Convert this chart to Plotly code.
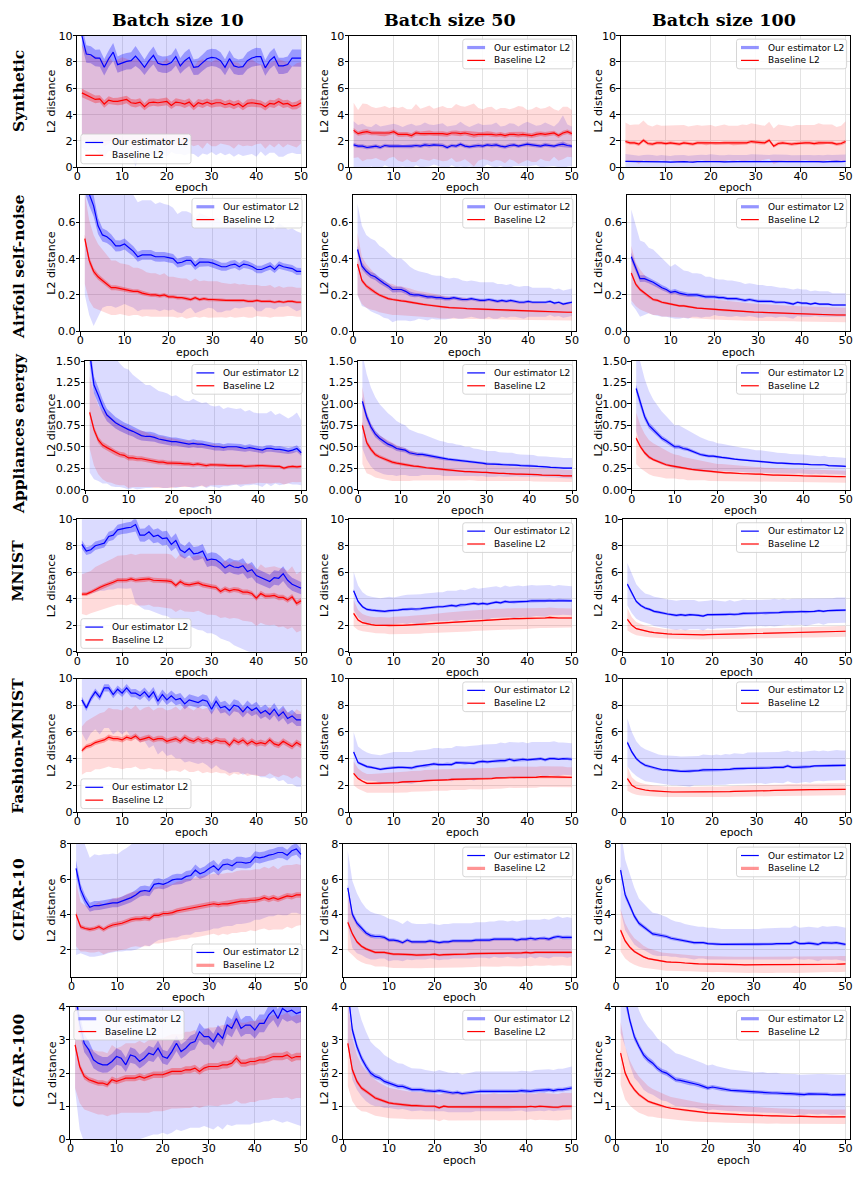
import plotly.graph_objects as go

# ---------------- data ----------------
EPOCHS = list(range(1, 51))
X_TICKS = [0, 10, 20, 30, 40, 50]
COL_TITLES = ["Batch size 10", "Batch size 50", "Batch size 100"]
ROW_NAMES = ["Synthetic", "Airfoil self-noise", "Appliances energy", "MNIST",
             "Fashion-MNIST", "CIFAR-10", "CIFAR-100"]
SERIES_NAMES = ["Our estimator L2", "Baseline L2"]
X_LABEL = "epoch"
Y_LABEL = "L2 distance"

Y_RANGES = [[0, 10], [0, 0.75], [0, 1.5], [0, 10], [0, 10], [0.45, 8], [0, 4]]
Y_TICKVALS = [[0, 2, 4, 6, 8, 10], [0, 0.2, 0.4, 0.6], [0, 0.25, 0.5, 0.75, 1.0, 1.25, 1.5],
              [0, 2, 4, 6, 8, 10], [0, 2, 4, 6, 8, 10], [2, 4, 6, 8], [0, 1, 2, 3, 4]]
Y_TICKTEXT = [["0", "2", "4", "6", "8", "10"], ["0.0", "0.2", "0.4", "0.6"],
              ["0.00", "0.25", "0.50", "0.75", "1.00", "1.25", "1.50"],
              ["0", "2", "4", "6", "8", "10"], ["0", "2", "4", "6", "8", "10"],
              ["2", "4", "6", "8"], ["0", "1", "2", "3", "4"]]

# ---- Synthetic ----
SYN10_OURS = [10.0, 8.6, 8.55, 8.3, 8.3, 7.6, 8.25, 8.75, 7.8, 7.95,
              8.05, 8.1, 8.45, 8.05, 7.6, 8.1, 8.5, 7.9, 7.8, 7.8,
              7.95, 8.4, 7.7, 8.1, 8.35, 7.6, 7.65, 7.95, 8.25, 8.35,
              8.3, 8.1, 7.6, 8.25, 7.7, 7.6, 7.65, 8.1, 8.3, 8.4,
              8.4, 7.55, 8.1, 8.4, 7.7, 7.7, 7.8, 8.3, 8.3, 8.3]
SYN10_OURS_SD = [8.5, 7.4, 7.2, 7.0, 7.3, 6.9, 7.0, 7.6, 6.8, 7.1,
                 7.0, 7.2, 8.4, 7.0, 6.6, 7.1, 7.5, 6.9, 6.8, 7.0,
                 6.8, 7.4, 6.7, 7.2, 7.3, 6.6, 6.9, 6.9, 7.3, 7.2,
                 7.4, 7.0, 6.7, 7.2, 6.9, 6.6, 6.8, 7.2, 7.3, 7.6,
                 7.2, 6.7, 7.0, 7.3, 6.9, 6.9, 6.8, 7.2, 7.3, 7.3]
SYN10_BASE = [5.65, 5.5, 5.3, 5.15, 5.2, 4.8, 5.1, 5.0, 5.0, 5.05,
              5.15, 4.9, 4.85, 4.95, 4.6, 4.9, 4.95, 4.9, 4.95, 5.0,
              4.7, 4.95, 4.9, 4.8, 4.95, 4.6, 4.9, 4.8, 4.95, 4.8,
              4.9, 4.9, 4.75, 4.85, 4.7, 4.85, 4.6, 4.85, 4.9, 4.85,
              4.8, 4.6, 4.85, 4.8, 5.0, 4.8, 4.85, 4.65, 4.7, 4.9]
SYN10_BASE_SD = [3.6, 3.4, 3.2, 3.3, 3.1, 3.2, 3.3, 3.0, 3.2, 3.3,
                 3.1, 3.2, 3.4, 3.2, 3.0, 3.3, 3.1, 3.2, 3.0, 3.3,
                 3.1, 3.2, 3.0, 3.3, 3.2, 3.0, 3.2, 3.4, 3.1, 3.2,
                 3.3, 3.1, 3.0, 3.2, 3.3, 3.1, 3.0, 3.2, 3.3, 3.1,
                 3.0, 3.2, 3.1, 3.3, 3.2, 3.3, 3.1, 3.0, 3.2, 3.1]
SYN50_OURS = [1.7, 1.6, 1.6, 1.5, 1.55, 1.6, 1.5, 1.65, 1.6, 1.6,
              1.6, 1.55, 1.6, 1.6, 1.65, 1.6, 1.7, 1.65, 1.7, 1.7,
              1.65, 1.5, 1.65, 1.6, 1.75, 1.6, 1.55, 1.6, 1.65, 1.6,
              1.7, 1.65, 1.7, 1.6, 1.55, 1.65, 1.7, 1.6, 1.7, 1.75,
              1.7, 1.65, 1.6, 1.7, 1.65, 1.6, 1.7, 1.75, 1.65, 1.6]
SYN50_OURS_SD = [1.8, 1.6, 1.7, 1.6, 1.5, 1.7, 1.6, 1.5, 1.6, 1.7,
                 1.6, 1.5, 1.6, 1.7, 1.5, 1.6, 1.7, 1.6, 1.5, 1.6,
                 1.7, 1.6, 1.5, 1.6, 1.7, 1.6, 1.5, 1.6, 1.7, 1.6,
                 1.5, 1.6, 1.7, 1.5, 1.6, 1.7, 1.6, 1.5, 1.6, 1.7,
                 1.6, 1.5, 1.6, 1.7, 1.6, 1.5, 1.7, 2.2, 1.6, 1.5]
SYN50_BASE = [2.8, 2.55, 2.65, 2.7, 2.6, 2.6, 2.55, 2.55, 2.6, 2.7,
              2.5, 2.5, 2.5, 2.4, 2.6, 2.55, 2.55, 2.6, 2.55, 2.55,
              2.55, 2.5, 2.6, 2.6, 2.55, 2.6, 2.55, 2.45, 2.5, 2.5,
              2.55, 2.5, 2.45, 2.5, 2.4, 2.5, 2.5, 2.45, 2.5, 2.45,
              2.4, 2.5, 2.55, 2.5, 2.55, 2.6, 2.4, 2.6, 2.7, 2.55]
SYN50_BASE_SD = [2.1, 1.8, 2.2, 2.1, 2.0, 1.9, 2.0, 2.1, 1.9, 1.9,
                 2.0, 2.1, 1.9, 2.0, 2.2, 1.9, 2.0, 2.1, 1.9, 2.0,
                 2.1, 2.0, 1.9, 2.2, 2.1, 2.0, 2.2, 2.4, 2.0, 1.9,
                 2.0, 2.1, 1.9, 2.0, 2.1, 1.9, 2.0, 2.2, 2.1, 1.9,
                 2.0, 2.1, 1.9, 2.0, 2.1, 1.8, 1.9, 2.0, 1.9, 1.8]
SYN100_OURS = [0.45, 0.45, 0.42, 0.4, 0.42, 0.43, 0.42, 0.4, 0.42, 0.4,
               0.38, 0.4, 0.42, 0.43, 0.4, 0.38, 0.42, 0.43, 0.42, 0.45,
               0.43, 0.42, 0.4, 0.42, 0.42, 0.43, 0.42, 0.43, 0.45, 0.45,
               0.43, 0.42, 0.42, 0.45, 0.47, 0.45, 0.42, 0.43, 0.42, 0.45,
               0.45, 0.43, 0.42, 0.43, 0.4, 0.43, 0.42, 0.45, 0.43, 0.45]
SYN100_OURS_SD = [0.55, 0.5, 0.5, 0.48, 0.5, 0.52, 0.5, 0.47, 0.5, 0.5,
                  0.48, 0.5, 0.52, 0.5, 0.48, 0.5, 0.5, 0.52, 0.5, 0.53,
                  0.5, 0.48, 0.5, 0.52, 0.5, 0.5, 0.48, 0.5, 0.53, 0.52,
                  0.5, 0.48, 0.5, 0.52, 0.5, 0.5, 0.52, 0.48, 0.5, 0.5,
                  0.52, 0.5, 0.48, 0.5, 0.5, 0.52, 0.5, 0.48, 0.5, 0.52]
SYN100_BASE = [1.95, 1.85, 1.85, 1.75, 2.05, 1.8, 1.75, 1.85, 1.85, 1.8,
               1.85, 1.8, 1.75, 1.85, 1.8, 1.75, 1.85, 1.85, 1.8, 1.85,
               1.8, 1.8, 1.85, 1.85, 1.8, 1.85, 1.85, 1.85, 1.95, 1.9,
               1.85, 1.85, 2.05, 1.6, 1.8, 1.85, 1.8, 1.75, 1.8, 1.85,
               1.85, 1.85, 1.8, 1.85, 1.85, 1.9, 1.85, 1.75, 1.8, 1.95]
SYN100_BASE_SD = [1.45, 1.35, 1.4, 1.5, 1.5, 1.4, 1.35, 1.4, 1.3, 1.35,
                  1.3, 1.35, 1.4, 1.35, 1.3, 1.4, 1.35, 1.3, 1.35, 1.35,
                  1.3, 1.35, 1.4, 1.3, 1.35, 1.3, 1.4, 1.35, 1.4, 1.4,
                  1.35, 1.3, 1.4, 1.35, 1.45, 1.35, 1.3, 1.35, 1.4, 1.35,
                  1.3, 1.35, 1.4, 1.5, 1.4, 1.35, 1.4, 1.3, 1.35, 1.55]

# ---- Airfoil self-noise ----
AIR10_OURS = [0.82, 0.75, 0.69, 0.58, 0.53, 0.52, 0.5, 0.47, 0.47, 0.48,
              0.46, 0.44, 0.41, 0.42, 0.42, 0.42, 0.41, 0.41, 0.41, 0.405,
              0.4, 0.375, 0.38, 0.39, 0.39, 0.36, 0.38, 0.38, 0.38, 0.375,
              0.365, 0.355, 0.355, 0.365, 0.37, 0.355, 0.37, 0.365, 0.355, 0.34,
              0.34, 0.35, 0.36, 0.34, 0.365, 0.355, 0.35, 0.345, 0.33, 0.33]
AIR10_OURS_SD = [0.62, 0.66, 0.66, 0.5, 0.4, 0.38, 0.36, 0.34, 0.33, 0.33,
                 0.32, 0.31, 0.3, 0.3, 0.3, 0.3, 0.29, 0.3, 0.29, 0.29,
                 0.28, 0.27, 0.28, 0.27, 0.26, 0.26, 0.27, 0.26, 0.25, 0.25,
                 0.26, 0.25, 0.24, 0.25, 0.24, 0.23, 0.24, 0.23, 0.22, 0.23,
                 0.23, 0.22, 0.23, 0.22, 0.23, 0.22, 0.21, 0.22, 0.22, 0.21]
AIR10_BASE = [0.51, 0.39, 0.33, 0.3, 0.28, 0.26, 0.24, 0.24, 0.235, 0.23,
              0.225, 0.22, 0.22, 0.21, 0.205, 0.2, 0.2, 0.195, 0.2, 0.19,
              0.19, 0.185, 0.185, 0.18, 0.175, 0.185, 0.175, 0.18, 0.175, 0.175,
              0.175, 0.172, 0.17, 0.17, 0.17, 0.168, 0.17, 0.165, 0.165, 0.17,
              0.165, 0.165, 0.165, 0.16, 0.165, 0.16, 0.165, 0.165, 0.16, 0.16]
AIR10_BASE_SD = [0.25, 0.22, 0.2, 0.18, 0.17, 0.16, 0.15, 0.15, 0.14, 0.14,
                 0.14, 0.13, 0.13, 0.13, 0.12, 0.12, 0.12, 0.115, 0.12, 0.11,
                 0.11, 0.11, 0.105, 0.11, 0.1, 0.105, 0.1, 0.1, 0.1, 0.1,
                 0.1, 0.095, 0.095, 0.09, 0.095, 0.09, 0.09, 0.09, 0.09, 0.085,
                 0.085, 0.085, 0.09, 0.08, 0.085, 0.08, 0.08, 0.08, 0.08, 0.08]
AIR50_OURS = [0.45, 0.36, 0.33, 0.31, 0.3, 0.28, 0.265, 0.25, 0.23, 0.23,
              0.23, 0.22, 0.205, 0.2, 0.2, 0.195, 0.19, 0.19, 0.185, 0.185,
              0.18, 0.18, 0.185, 0.18, 0.175, 0.175, 0.18, 0.175, 0.17, 0.17,
              0.175, 0.17, 0.165, 0.17, 0.165, 0.17, 0.165, 0.16, 0.16, 0.165,
              0.16, 0.16, 0.16, 0.16, 0.165, 0.155, 0.16, 0.15, 0.155, 0.16]
AIR50_OURS_SD = [0.25, 0.22, 0.2, 0.2, 0.2, 0.19, 0.19, 0.18, 0.18, 0.17,
                 0.17, 0.16, 0.15, 0.14, 0.13, 0.13, 0.13, 0.12, 0.12, 0.12,
                 0.115, 0.11, 0.11, 0.11, 0.105, 0.1, 0.1, 0.1, 0.1, 0.1,
                 0.095, 0.1, 0.095, 0.09, 0.09, 0.09, 0.085, 0.085, 0.09, 0.085,
                 0.08, 0.08, 0.08, 0.08, 0.075, 0.075, 0.075, 0.075, 0.075, 0.075]
AIR50_BASE = [0.37, 0.28, 0.25, 0.23, 0.215, 0.2, 0.19, 0.18, 0.175, 0.17,
              0.168, 0.165, 0.16, 0.155, 0.15, 0.148, 0.145, 0.143, 0.14, 0.135,
              0.133, 0.13, 0.13, 0.128, 0.127, 0.125, 0.124, 0.122, 0.121, 0.12,
              0.12, 0.118, 0.117, 0.116, 0.115, 0.114, 0.113, 0.112, 0.111, 0.11,
              0.11, 0.109, 0.108, 0.107, 0.107, 0.106, 0.106, 0.105, 0.105, 0.105]
AIR50_BASE_SD = [0.17, 0.13, 0.12, 0.11, 0.1, 0.095, 0.09, 0.085, 0.085, 0.08,
                 0.08, 0.078, 0.075, 0.072, 0.07, 0.07, 0.068, 0.066, 0.065, 0.064,
                 0.062, 0.06, 0.06, 0.059, 0.058, 0.057, 0.056, 0.055, 0.055, 0.054,
                 0.053, 0.052, 0.052, 0.051, 0.05, 0.05, 0.05, 0.049, 0.048, 0.048,
                 0.047, 0.047, 0.047, 0.046, 0.046, 0.046, 0.045, 0.045, 0.045, 0.045]
AIR100_OURS = [0.41, 0.35, 0.29, 0.29, 0.28, 0.27, 0.255, 0.24, 0.23, 0.215,
               0.22, 0.21, 0.205, 0.2, 0.2, 0.2, 0.195, 0.19, 0.19, 0.19,
               0.185, 0.185, 0.18, 0.18, 0.18, 0.175, 0.17, 0.175, 0.17, 0.165,
               0.165, 0.165, 0.165, 0.16, 0.16, 0.16, 0.155, 0.15, 0.16, 0.155,
               0.155, 0.15, 0.155, 0.15, 0.15, 0.15, 0.145, 0.145, 0.145, 0.145]
AIR100_OURS_SD = [0.26, 0.23, 0.21, 0.2, 0.18, 0.18, 0.17, 0.16, 0.15, 0.14,
                  0.15, 0.14, 0.13, 0.13, 0.12, 0.12, 0.12, 0.11, 0.11, 0.1,
                  0.1, 0.1, 0.1, 0.1, 0.095, 0.095, 0.09, 0.09, 0.09, 0.09,
                  0.09, 0.085, 0.085, 0.085, 0.08, 0.08, 0.08, 0.08, 0.075, 0.075,
                  0.075, 0.07, 0.07, 0.07, 0.07, 0.07, 0.065, 0.065, 0.065, 0.065]
AIR100_BASE = [0.32, 0.26, 0.23, 0.21, 0.19, 0.175, 0.17, 0.16, 0.155, 0.15,
               0.145, 0.14, 0.14, 0.135, 0.13, 0.128, 0.126, 0.124, 0.122, 0.12,
               0.118, 0.116, 0.114, 0.112, 0.11, 0.11, 0.108, 0.107, 0.106, 0.105,
               0.104, 0.103, 0.102, 0.1, 0.1, 0.099, 0.098, 0.097, 0.096, 0.095,
               0.095, 0.094, 0.094, 0.093, 0.092, 0.092, 0.091, 0.09, 0.09, 0.09]
AIR100_BASE_SD = [0.15, 0.12, 0.11, 0.1, 0.09, 0.085, 0.08, 0.078, 0.075, 0.07,
                  0.068, 0.066, 0.064, 0.062, 0.06, 0.059, 0.058, 0.057, 0.056, 0.055,
                  0.054, 0.053, 0.052, 0.051, 0.05, 0.05, 0.049, 0.048, 0.047, 0.047,
                  0.046, 0.045, 0.045, 0.044, 0.044, 0.043, 0.043, 0.042, 0.042, 0.042,
                  0.041, 0.041, 0.041, 0.04, 0.04, 0.04, 0.04, 0.04, 0.04, 0.04]

# ---- Appliances energy ----
APP10_OURS = [1.6, 1.22, 1.1, 0.97, 0.87, 0.82, 0.78, 0.75, 0.72, 0.7,
              0.68, 0.65, 0.63, 0.62, 0.62, 0.61, 0.59, 0.58, 0.57, 0.56,
              0.56, 0.55, 0.54, 0.53, 0.54, 0.53, 0.53, 0.52, 0.51, 0.5,
              0.5, 0.49, 0.5, 0.5, 0.5, 0.49, 0.48, 0.49, 0.48, 0.47,
              0.46, 0.48, 0.48, 0.47, 0.47, 0.46, 0.45, 0.46, 0.48, 0.43]
APP10_OURS_SD = [1.4, 1.1, 1.0, 0.9, 0.8, 0.78, 0.75, 0.72, 0.7, 0.7,
                 0.66, 0.65, 0.62, 0.6, 0.6, 0.58, 0.56, 0.56, 0.55, 0.53,
                 0.54, 0.52, 0.5, 0.5, 0.52, 0.5, 0.48, 0.5, 0.47, 0.47,
                 0.48, 0.45, 0.46, 0.45, 0.44, 0.46, 0.43, 0.44, 0.42, 0.42,
                 0.43, 0.41, 0.44, 0.4, 0.42, 0.4, 0.38, 0.4, 0.42, 0.38]
APP10_BASE = [0.9, 0.7, 0.58, 0.52, 0.49, 0.46, 0.43, 0.41, 0.4, 0.37,
              0.37, 0.36, 0.36, 0.35, 0.34, 0.33, 0.32, 0.32, 0.31, 0.31,
              0.31, 0.305, 0.3, 0.3, 0.29, 0.3, 0.29, 0.28, 0.29, 0.29,
              0.285, 0.285, 0.28, 0.28, 0.28, 0.28, 0.27, 0.275, 0.28, 0.28,
              0.28, 0.275, 0.27, 0.27, 0.27, 0.25, 0.265, 0.27, 0.265, 0.27]
APP10_BASE_SD = [0.42, 0.42, 0.4, 0.4, 0.4, 0.38, 0.37, 0.36, 0.35, 0.35,
                 0.34, 0.33, 0.33, 0.32, 0.31, 0.31, 0.3, 0.3, 0.29, 0.29,
                 0.28, 0.28, 0.27, 0.27, 0.26, 0.26, 0.25, 0.25, 0.24, 0.24,
                 0.23, 0.23, 0.23, 0.22, 0.22, 0.22, 0.21, 0.21, 0.21, 0.2,
                 0.2, 0.2, 0.2, 0.19, 0.19, 0.19, 0.19, 0.18, 0.18, 0.18]
APP50_OURS = [1.03, 0.85, 0.73, 0.65, 0.6, 0.56, 0.53, 0.51, 0.48, 0.47,
              0.46, 0.43, 0.42, 0.41, 0.41, 0.4, 0.39, 0.38, 0.37, 0.36,
              0.355, 0.35, 0.345, 0.34, 0.33, 0.33, 0.32, 0.315, 0.31, 0.3,
              0.3, 0.3, 0.295, 0.29, 0.29, 0.29, 0.285, 0.28, 0.28, 0.28,
              0.275, 0.27, 0.27, 0.265, 0.26, 0.26, 0.255, 0.25, 0.25, 0.25]
APP50_OURS_SD = [0.55, 0.5, 0.46, 0.43, 0.4, 0.38, 0.36, 0.34, 0.32, 0.3,
                 0.29, 0.27, 0.26, 0.25, 0.24, 0.23, 0.22, 0.21, 0.2, 0.2,
                 0.19, 0.19, 0.18, 0.18, 0.17, 0.17, 0.16, 0.16, 0.15, 0.15,
                 0.15, 0.15, 0.14, 0.14, 0.14, 0.14, 0.13, 0.13, 0.13, 0.13,
                 0.13, 0.12, 0.12, 0.12, 0.12, 0.12, 0.12, 0.12, 0.12, 0.12]
APP50_BASE = [0.75, 0.55, 0.47, 0.41, 0.38, 0.36, 0.34, 0.32, 0.31, 0.3,
              0.29, 0.28, 0.275, 0.27, 0.26, 0.255, 0.25, 0.245, 0.24, 0.23,
              0.225, 0.22, 0.22, 0.215, 0.21, 0.21, 0.205, 0.2, 0.2, 0.2,
              0.195, 0.19, 0.19, 0.19, 0.185, 0.185, 0.18, 0.18, 0.18, 0.18,
              0.175, 0.175, 0.17, 0.17, 0.17, 0.165, 0.165, 0.16, 0.16, 0.16]
APP50_BASE_SD = [0.45, 0.36, 0.3, 0.27, 0.25, 0.24, 0.23, 0.22, 0.21, 0.2,
                 0.19, 0.18, 0.17, 0.16, 0.15, 0.145, 0.14, 0.135, 0.13, 0.12,
                 0.12, 0.115, 0.11, 0.11, 0.105, 0.1, 0.1, 0.1, 0.1, 0.1,
                 0.095, 0.095, 0.09, 0.09, 0.09, 0.085, 0.085, 0.085, 0.08, 0.08,
                 0.08, 0.08, 0.075, 0.075, 0.075, 0.075, 0.07, 0.07, 0.07, 0.07]
APP100_OURS = [1.18, 1.0, 0.85, 0.75, 0.7, 0.65, 0.6, 0.57, 0.53, 0.5,
               0.5, 0.48, 0.47, 0.45, 0.43, 0.41, 0.4, 0.39, 0.39, 0.38,
               0.375, 0.37, 0.36, 0.355, 0.35, 0.345, 0.34, 0.335, 0.33, 0.33,
               0.325, 0.32, 0.315, 0.31, 0.31, 0.305, 0.3, 0.3, 0.3, 0.3,
               0.295, 0.29, 0.29, 0.285, 0.29, 0.28, 0.28, 0.28, 0.275, 0.27]
APP100_OURS_SD = [0.5, 0.48, 0.44, 0.4, 0.35, 0.33, 0.31, 0.29, 0.27, 0.25,
                  0.25, 0.24, 0.23, 0.22, 0.21, 0.2, 0.19, 0.18, 0.17, 0.16,
                  0.16, 0.155, 0.15, 0.15, 0.145, 0.14, 0.14, 0.135, 0.13, 0.13,
                  0.13, 0.125, 0.125, 0.12, 0.12, 0.12, 0.115, 0.115, 0.11, 0.11,
                  0.11, 0.11, 0.105, 0.105, 0.105, 0.1, 0.1, 0.1, 0.1, 0.1]
APP100_BASE = [0.6, 0.5, 0.43, 0.38, 0.35, 0.33, 0.31, 0.29, 0.28, 0.27,
               0.26, 0.25, 0.24, 0.235, 0.23, 0.225, 0.22, 0.21, 0.205, 0.2,
               0.2, 0.195, 0.195, 0.19, 0.19, 0.185, 0.185, 0.18, 0.18, 0.18,
               0.175, 0.175, 0.17, 0.17, 0.17, 0.168, 0.166, 0.165, 0.163, 0.16,
               0.16, 0.158, 0.157, 0.156, 0.155, 0.154, 0.153, 0.152, 0.151, 0.15]
APP100_BASE_SD = [0.3, 0.25, 0.22, 0.2, 0.19, 0.18, 0.17, 0.16, 0.15, 0.14,
                  0.14, 0.13, 0.13, 0.12, 0.12, 0.115, 0.11, 0.11, 0.105, 0.1,
                  0.1, 0.1, 0.095, 0.095, 0.09, 0.09, 0.09, 0.085, 0.085, 0.085,
                  0.08, 0.08, 0.08, 0.08, 0.08, 0.075, 0.075, 0.075, 0.075, 0.075,
                  0.07, 0.07, 0.07, 0.07, 0.07, 0.07, 0.07, 0.07, 0.07, 0.07]

# ---- MNIST ----
MNI10_OURS = [8.1, 7.6, 7.7, 8.0, 8.1, 8.2, 8.7, 8.8, 9.2, 9.3,
              9.35, 9.4, 9.6, 8.8, 8.8, 9.05, 8.7, 8.8, 8.55, 8.6,
              8.1, 8.4, 7.7, 7.5, 7.8, 7.4, 7.45, 7.6, 6.9, 7.0,
              6.95, 6.7, 6.35, 6.55, 6.4, 6.35, 6.5, 6.05, 6.2, 5.75,
              5.6, 5.45, 5.3, 5.6, 5.55, 5.9, 5.4, 5.1, 4.95, 4.8]
MNI10_OURS_SD = [3.6, 3.3, 3.3, 3.5, 3.5, 3.6, 4.0, 4.1, 4.4, 4.5,
                 4.6, 4.6, 5.9, 5.4, 5.6, 5.9, 5.7, 5.9, 5.8, 5.9,
                 5.6, 6.0, 5.5, 5.4, 5.8, 5.6, 5.8, 6.0, 5.5, 5.6,
                 5.7, 5.7, 5.5, 5.8, 5.9, 6.0, 6.3, 6.0, 6.3, 6.0,
                 6.0, 5.9, 5.8, 6.1, 6.0, 6.2, 5.7, 5.4, 5.2, 5.1]
MNI10_BASE = [4.35, 4.35, 4.5, 4.7, 4.85, 5.0, 5.1, 5.25, 5.4, 5.4,
              5.4, 5.5, 5.4, 5.45, 5.45, 5.5, 5.4, 5.4, 5.4, 5.35,
              5.3, 5.0, 5.3, 5.1, 5.05, 5.1, 5.2, 5.05, 4.95, 4.9,
              4.85, 4.55, 4.75, 4.6, 4.7, 4.65, 4.5, 4.5, 4.4, 4.05,
              4.4, 4.2, 4.2, 4.25, 4.1, 4.1, 3.9, 4.15, 3.65, 3.85]
MNI10_BASE_SD = [1.5, 1.6, 1.6, 1.7, 1.7, 1.75, 1.75, 1.8, 1.85, 1.85,
                 1.9, 1.9, 1.9, 1.95, 1.95, 1.95, 2.0, 2.0, 2.0, 2.05,
                 2.05, 2.0, 2.1, 2.05, 2.05, 2.1, 2.1, 2.1, 2.15, 2.1,
                 2.1, 2.0, 2.15, 2.1, 2.15, 2.15, 2.15, 2.2, 2.15, 2.1,
                 2.2, 2.15, 2.2, 2.2, 2.25, 2.2, 2.2, 2.3, 2.2, 2.25]
MNI50_OURS = [4.6, 3.8, 3.4, 3.2, 3.15, 3.1, 3.05, 3.05, 3.1, 3.1,
              3.15, 3.2, 3.2, 3.25, 3.2, 3.25, 3.3, 3.35, 3.35, 3.4,
              3.4, 3.45, 3.5, 3.45, 3.55, 3.55, 3.6, 3.65, 3.6, 3.65,
              3.6, 3.7, 3.75, 3.7, 3.8, 3.75, 3.75, 3.8, 3.8, 3.8,
              3.85, 3.85, 3.85, 3.85, 3.9, 3.85, 3.9, 3.9, 3.9, 3.85]
MNI50_OURS_SD = [1.45, 1.2, 1.1, 1.05, 1.0, 1.0, 1.0, 1.05, 1.05, 1.0,
                 1.05, 1.05, 1.1, 1.05, 1.1, 1.1, 1.1, 1.05, 1.1, 1.1,
                 1.1, 1.15, 1.1, 1.15, 1.15, 1.1, 1.15, 1.2, 1.15, 1.15,
                 1.2, 1.15, 1.2, 1.15, 1.2, 1.15, 1.2, 1.2, 1.15, 1.2,
                 1.2, 1.15, 1.15, 1.2, 1.15, 1.1, 1.15, 1.1, 1.1, 1.1]
MNI50_BASE = [2.9, 2.4, 2.2, 2.1, 2.05, 2.0, 2.0, 2.0, 1.95, 2.0,
              2.0, 2.0, 2.02, 2.04, 2.05, 2.07, 2.1, 2.12, 2.15, 2.2,
              2.2, 2.22, 2.25, 2.25, 2.3, 2.3, 2.32, 2.35, 2.37, 2.4,
              2.4, 2.42, 2.45, 2.45, 2.47, 2.5, 2.5, 2.5, 2.5, 2.5,
              2.52, 2.55, 2.55, 2.55, 2.6, 2.55, 2.55, 2.55, 2.55, 2.55]
MNI50_BASE_SD = [1.0, 0.75, 0.65, 0.62, 0.6, 0.6, 0.62, 0.62, 0.63, 0.65,
                 0.65, 0.66, 0.67, 0.68, 0.68, 0.7, 0.7, 0.7, 0.72, 0.72,
                 0.73, 0.74, 0.75, 0.75, 0.76, 0.77, 0.78, 0.78, 0.79, 0.8,
                 0.8, 0.8, 0.8, 0.8, 0.8, 0.8, 0.79, 0.78, 0.78, 0.77,
                 0.77, 0.76, 0.76, 0.75, 0.75, 0.75, 0.74, 0.73, 0.72, 0.72]
MNI100_OURS = [5.1, 4.4, 3.8, 3.5, 3.3, 3.2, 3.05, 3.0, 2.9, 2.85,
               2.8, 2.75, 2.8, 2.75, 2.8, 2.8, 2.75, 2.7, 2.8, 2.8,
               2.8, 2.8, 2.8, 2.85, 2.8, 2.85, 2.9, 2.9, 2.9, 2.9,
               2.95, 2.9, 2.95, 2.95, 2.95, 3.0, 3.0, 3.0, 3.0, 3.05,
               3.0, 3.0, 3.05, 3.1, 3.05, 3.1, 3.1, 3.15, 3.15, 3.15]
MNI100_OURS_SD = [1.6, 1.5, 1.3, 1.2, 1.1, 1.1, 1.1, 1.1, 1.1, 1.1,
                  1.1, 1.1, 1.1, 1.15, 1.1, 1.1, 1.05, 1.1, 1.05, 1.1,
                  1.05, 1.05, 1.0, 1.05, 1.0, 1.0, 1.05, 1.0, 1.0, 1.0,
                  1.0, 1.0, 1.0, 1.05, 1.0, 1.0, 0.95, 1.0, 1.0, 1.0,
                  1.05, 1.0, 0.95, 0.95, 1.0, 0.95, 0.95, 0.95, 0.95, 0.95]
MNI100_BASE = [2.45, 2.0, 1.75, 1.65, 1.55, 1.5, 1.45, 1.4, 1.38, 1.35,
               1.33, 1.32, 1.3, 1.3, 1.3, 1.3, 1.3, 1.28, 1.3, 1.3,
               1.3, 1.32, 1.33, 1.33, 1.35, 1.35, 1.36, 1.37, 1.38, 1.4,
               1.4, 1.4, 1.41, 1.42, 1.42, 1.43, 1.44, 1.45, 1.45, 1.45,
               1.46, 1.47, 1.48, 1.49, 1.5, 1.51, 1.52, 1.53, 1.54, 1.55]
MNI100_BASE_SD = [0.85, 0.6, 0.5, 0.45, 0.42, 0.4, 0.38, 0.37, 0.36, 0.35,
                  0.35, 0.35, 0.35, 0.35, 0.35, 0.35, 0.35, 0.35, 0.35, 0.35,
                  0.35, 0.35, 0.36, 0.36, 0.36, 0.36, 0.37, 0.37, 0.37, 0.37,
                  0.38, 0.38, 0.38, 0.38, 0.38, 0.39, 0.39, 0.39, 0.39, 0.4,
                  0.4, 0.4, 0.4, 0.4, 0.4, 0.4, 0.41, 0.41, 0.41, 0.42]

# ---- Fashion-MNIST ----
FAS10_OURS = [8.4, 7.8, 8.5, 9.0, 8.6, 9.3, 9.3, 8.8, 9.2, 8.9,
              9.3, 8.9, 8.9, 8.7, 9.0, 8.6, 9.0, 8.3, 8.8, 8.4,
              8.7, 8.4, 8.5, 8.1, 8.4, 8.3, 8.2, 8.4, 8.3, 7.7,
              8.3, 7.8, 7.9, 7.6, 8.0, 7.9, 7.5, 7.9, 7.6, 7.8,
              7.4, 7.6, 7.3, 7.7, 7.2, 7.5, 7.0, 7.2, 6.9, 6.9]
FAS10_OURS_SD = [2.5, 2.5, 2.6, 2.8, 2.8, 3.0, 3.0, 3.0, 3.1, 3.1,
                 3.2, 3.3, 3.4, 3.5, 3.7, 3.8, 4.0, 4.0, 4.2, 4.2,
                 4.4, 4.4, 4.5, 4.4, 4.6, 4.6, 4.6, 4.7, 4.8, 4.5,
                 4.8, 4.6, 4.8, 4.7, 5.0, 4.9, 4.7, 5.0, 4.8, 5.0,
                 4.8, 5.0, 4.8, 5.1, 4.9, 5.1, 4.9, 5.1, 5.0, 5.0]
FAS10_BASE = [4.6, 4.9, 5.0, 5.2, 5.3, 5.4, 5.6, 5.5, 5.5, 5.4,
              5.6, 5.5, 5.7, 5.4, 5.5, 5.6, 5.4, 5.5, 5.5, 5.3,
              5.4, 5.5, 5.3, 5.6, 5.4, 5.3, 5.5, 5.3, 5.4, 5.2,
              5.4, 5.3, 5.3, 5.0, 5.4, 5.2, 5.4, 5.1, 5.3, 5.1,
              5.2, 5.1, 5.4, 5.1, 5.0, 5.3, 5.1, 4.9, 5.2, 5.0]
FAS10_BASE_SD = [1.8, 1.9, 2.0, 2.0, 2.1, 2.1, 2.2, 2.2, 2.2, 2.2,
                 2.3, 2.2, 2.3, 2.2, 2.3, 2.3, 2.2, 2.3, 2.3, 2.3,
                 2.3, 2.4, 2.3, 2.4, 2.4, 2.3, 2.4, 2.4, 2.4, 2.3,
                 2.4, 2.4, 2.4, 2.3, 2.5, 2.4, 2.5, 2.4, 2.5, 2.4,
                 2.5, 2.4, 2.5, 2.4, 2.4, 2.5, 2.4, 2.4, 2.5, 2.5]
FAS50_OURS = [4.5, 3.7, 3.55, 3.4, 3.35, 3.3, 3.2, 3.25, 3.3, 3.35,
              3.35, 3.35, 3.35, 3.3, 3.4, 3.45, 3.45, 3.5, 3.6, 3.55,
              3.55, 3.6, 3.55, 3.7, 3.7, 3.65, 3.7, 3.65, 3.75, 3.8,
              3.75, 3.8, 3.8, 3.85, 3.85, 3.95, 3.85, 3.9, 3.95, 3.9,
              3.95, 3.95, 4.0, 3.9, 4.0, 4.0, 3.95, 4.0, 4.0, 3.95]
FAS50_OURS_SD = [1.5, 1.2, 1.1, 1.05, 1.0, 1.0, 1.05, 1.1, 1.15, 1.15,
                 1.15, 1.15, 1.2, 1.2, 1.2, 1.15, 1.2, 1.2, 1.2, 1.25,
                 1.2, 1.2, 1.25, 1.25, 1.2, 1.25, 1.25, 1.3, 1.25, 1.25,
                 1.3, 1.25, 1.3, 1.35, 1.3, 1.3, 1.35, 1.3, 1.3, 1.25,
                 1.3, 1.3, 1.25, 1.3, 1.25, 1.3, 1.25, 1.2, 1.2, 1.2]
FAS50_BASE = [2.9, 2.5, 2.3, 2.15, 2.15, 2.15, 2.15, 2.2, 2.2, 2.2,
              2.2, 2.25, 2.25, 2.3, 2.3, 2.3, 2.35, 2.35, 2.4, 2.4,
              2.4, 2.4, 2.45, 2.45, 2.45, 2.45, 2.5, 2.5, 2.5, 2.5,
              2.5, 2.5, 2.55, 2.55, 2.55, 2.6, 2.6, 2.6, 2.6, 2.6,
              2.6, 2.6, 2.65, 2.65, 2.65, 2.65, 2.65, 2.65, 2.6, 2.6]
FAS50_BASE_SD = [0.9, 0.75, 0.7, 0.7, 0.7, 0.72, 0.74, 0.75, 0.75, 0.75,
                 0.76, 0.77, 0.78, 0.78, 0.78, 0.79, 0.8, 0.8, 0.8, 0.8,
                 0.8, 0.81, 0.8, 0.79, 0.8, 0.81, 0.8, 0.79, 0.8, 0.81,
                 0.8, 0.79, 0.8, 0.81, 0.8, 0.79, 0.8, 0.81, 0.8, 0.8,
                 0.8, 0.79, 0.78, 0.78, 0.77, 0.77, 0.76, 0.76, 0.75, 0.75]
FAS100_OURS = [5.2, 4.5, 4.0, 3.7, 3.5, 3.4, 3.3, 3.2, 3.15, 3.15,
               3.1, 3.1, 3.05, 3.05, 3.05, 3.1, 3.1, 3.15, 3.15, 3.15,
               3.15, 3.15, 3.2, 3.2, 3.25, 3.25, 3.25, 3.3, 3.3, 3.3,
               3.3, 3.3, 3.3, 3.35, 3.35, 3.35, 3.45, 3.35, 3.35, 3.35,
               3.4, 3.4, 3.45, 3.45, 3.45, 3.45, 3.5, 3.5, 3.5, 3.5]
FAS100_OURS_SD = [1.8, 1.5, 1.3, 1.2, 1.2, 1.15, 1.1, 1.1, 1.1, 1.1,
                  1.1, 1.1, 1.1, 1.1, 1.15, 1.1, 1.1, 1.15, 1.1, 1.1,
                  1.15, 1.1, 1.15, 1.1, 1.15, 1.15, 1.1, 1.15, 1.15, 1.15,
                  1.15, 1.2, 1.15, 1.15, 1.15, 1.2, 1.15, 1.15, 1.2, 1.15,
                  1.15, 1.2, 1.15, 1.1, 1.15, 1.1, 1.1, 1.15, 1.1, 1.1]
FAS100_BASE = [2.5, 2.0, 1.8, 1.7, 1.65, 1.6, 1.57, 1.55, 1.52, 1.5,
               1.5, 1.5, 1.5, 1.48, 1.48, 1.5, 1.5, 1.5, 1.5, 1.5,
               1.5, 1.52, 1.52, 1.53, 1.55, 1.55, 1.55, 1.57, 1.58, 1.6,
               1.6, 1.6, 1.6, 1.62, 1.62, 1.63, 1.65, 1.65, 1.65, 1.65,
               1.66, 1.67, 1.68, 1.68, 1.68, 1.7, 1.7, 1.7, 1.7, 1.7]
FAS100_BASE_SD = [0.9, 0.6, 0.5, 0.47, 0.45, 0.43, 0.42, 0.41, 0.4, 0.4,
                  0.4, 0.41, 0.4, 0.39, 0.4, 0.41, 0.4, 0.39, 0.4, 0.41,
                  0.4, 0.4, 0.4, 0.41, 0.41, 0.41, 0.41, 0.42, 0.42, 0.42,
                  0.42, 0.42, 0.43, 0.43, 0.43, 0.43, 0.44, 0.44, 0.44, 0.44,
                  0.44, 0.45, 0.45, 0.45, 0.45, 0.45, 0.45, 0.45, 0.45, 0.45]

# ---- CIFAR-10 ----
C10_10_OURS = [6.6, 5.4, 4.8, 4.4, 4.5, 4.5, 4.55, 4.6, 4.65, 4.65,
               4.75, 4.85, 4.95, 5.1, 5.3, 5.35, 5.3, 5.7, 5.75, 5.7,
               5.8, 5.95, 6.0, 6.0, 6.15, 6.2, 6.5, 6.3, 6.4, 6.6,
               6.75, 6.5, 6.8, 6.85, 6.75, 6.95, 6.95, 6.9, 6.95, 7.25,
               7.2, 7.25, 7.35, 7.4, 7.5, 7.5, 7.35, 7.6, 7.7, 7.4]
C10_10_OURS_SD = [4.9, 3.6, 3.1, 2.8, 2.9, 2.85, 2.85, 2.8, 2.8, 2.75,
                  2.85, 2.9, 3.0, 3.1, 3.2, 3.1, 3.1, 3.3, 3.2, 3.1,
                  3.15, 3.25, 3.3, 3.2, 3.3, 3.35, 3.5, 3.3, 3.35, 3.5,
                  3.55, 3.3, 3.5, 3.5, 3.4, 3.5, 3.5, 3.4, 3.4, 3.55,
                  3.5, 3.45, 3.45, 3.5, 3.5, 3.55, 3.4, 3.5, 3.6, 3.4]
C10_10_BASE = [4.0, 3.3, 3.2, 3.15, 3.2, 3.3, 3.15, 3.3, 3.4, 3.45,
               3.5, 3.6, 3.7, 3.75, 3.75, 3.8, 3.75, 3.95, 3.95, 4.05,
               4.05, 4.1, 4.2, 4.25, 4.3, 4.35, 4.4, 4.45, 4.5, 4.55,
               4.6, 4.55, 4.6, 4.6, 4.65, 4.7, 4.75, 4.75, 4.8, 4.8,
               4.85, 4.95, 4.85, 4.95, 4.85, 4.95, 5.05, 5.0, 5.1, 5.1]
C10_10_BASE_SD = [1.8, 1.4, 1.3, 1.3, 1.35, 1.4, 1.4, 1.45, 1.5, 1.5,
                  1.5, 1.55, 1.55, 1.55, 1.6, 1.6, 1.55, 1.6, 1.6, 1.65,
                  1.6, 1.6, 1.65, 1.65, 1.7, 1.65, 1.7, 1.7, 1.7, 1.7,
                  1.7, 1.75, 1.7, 1.75, 1.7, 1.75, 1.75, 1.75, 1.7, 1.75,
                  1.7, 1.75, 1.75, 1.8, 1.7, 1.8, 1.75, 1.8, 1.75, 1.7]
C10_50_OURS = [5.5, 4.0, 3.5, 3.2, 2.95, 2.8, 2.75, 2.75, 2.7, 2.55,
               2.55, 2.5, 2.4, 2.55, 2.45, 2.45, 2.45, 2.45, 2.5, 2.45,
               2.4, 2.45, 2.45, 2.5, 2.5, 2.5, 2.5, 2.5, 2.55, 2.55,
               2.55, 2.55, 2.6, 2.6, 2.6, 2.6, 2.6, 2.55, 2.6, 2.6,
               2.65, 2.6, 2.65, 2.65, 2.6, 2.7, 2.75, 2.7, 2.7, 2.7]
C10_50_OURS_SD = [2.1, 1.9, 1.7, 1.5, 1.4, 1.35, 1.3, 1.25, 1.2, 1.2,
                  1.15, 1.1, 1.05, 1.1, 1.05, 1.0, 1.0, 1.0, 1.0, 1.0,
                  1.0, 1.0, 1.0, 1.0, 1.0, 1.0, 1.0, 1.0, 1.0, 1.0,
                  1.0, 1.05, 1.0, 1.05, 1.05, 1.0, 1.05, 1.05, 1.05, 1.1,
                  1.05, 1.1, 1.05, 1.1, 1.1, 1.1, 1.15, 1.1, 1.15, 1.1]
C10_50_BASE = [3.55, 2.9, 2.45, 2.2, 2.05, 1.95, 1.85, 1.85, 1.85, 1.8,
               1.75, 1.75, 1.75, 1.72, 1.72, 1.7, 1.7, 1.72, 1.72, 1.75,
               1.7, 1.72, 1.72, 1.75, 1.75, 1.75, 1.75, 1.78, 1.78, 1.8,
               1.8, 1.8, 1.8, 1.8, 1.82, 1.82, 1.8, 1.82, 1.82, 1.85,
               1.82, 1.85, 1.85, 1.85, 1.88, 1.85, 1.85, 1.88, 1.85, 1.85]
C10_50_BASE_SD = [1.6, 1.2, 1.0, 0.9, 0.85, 0.8, 0.8, 0.8, 0.8, 0.8,
                  0.78, 0.78, 0.77, 0.76, 0.76, 0.75, 0.75, 0.75, 0.76, 0.75,
                  0.74, 0.75, 0.75, 0.76, 0.75, 0.75, 0.74, 0.75, 0.76, 0.75,
                  0.75, 0.74, 0.75, 0.76, 0.75, 0.75, 0.74, 0.75, 0.76, 0.75,
                  0.75, 0.74, 0.75, 0.76, 0.75, 0.75, 0.74, 0.75, 0.76, 0.75]
C10_100_OURS = [6.5, 5.1, 4.5, 3.9, 3.5, 3.3, 3.1, 2.9, 2.85, 2.8,
                2.75, 2.65, 2.6, 2.55, 2.5, 2.45, 2.4, 2.4, 2.4, 2.35,
                2.35, 2.32, 2.3, 2.3, 2.3, 2.3, 2.3, 2.3, 2.28, 2.3,
                2.3, 2.32, 2.32, 2.32, 2.35, 2.35, 2.35, 2.35, 2.45, 2.35,
                2.35, 2.38, 2.35, 2.3, 2.4, 2.38, 2.38, 2.4, 2.35, 2.3]
C10_100_OURS_SD = [2.3, 2.0, 1.8, 1.6, 1.4, 1.3, 1.25, 1.2, 1.2, 1.15,
                   1.1, 1.05, 1.0, 1.0, 0.95, 0.95, 0.95, 0.9, 0.9, 0.9,
                   0.9, 0.88, 0.88, 0.88, 0.88, 0.86, 0.86, 0.86, 0.86, 0.86,
                   0.88, 0.88, 0.9, 0.88, 0.9, 0.9, 0.9, 0.9, 0.92, 0.9,
                   0.92, 0.92, 0.92, 0.95, 0.95, 0.92, 0.95, 0.95, 0.95, 0.95]
C10_100_BASE = [3.1, 2.5, 2.15, 1.9, 1.75, 1.6, 1.5, 1.45, 1.4, 1.35,
                1.32, 1.3, 1.3, 1.28, 1.25, 1.25, 1.22, 1.2, 1.2, 1.2,
                1.18, 1.18, 1.18, 1.17, 1.17, 1.16, 1.16, 1.15, 1.15, 1.15,
                1.15, 1.15, 1.14, 1.14, 1.15, 1.15, 1.15, 1.15, 1.15, 1.15,
                1.15, 1.16, 1.16, 1.16, 1.17, 1.18, 1.18, 1.18, 1.19, 1.2]
C10_100_BASE_SD = [1.2, 1.0, 0.85, 0.75, 0.7, 0.62, 0.58, 0.55, 0.52, 0.5,
                   0.5, 0.48, 0.48, 0.47, 0.46, 0.46, 0.45, 0.45, 0.45, 0.45,
                   0.45, 0.44, 0.45, 0.46, 0.45, 0.45, 0.44, 0.45, 0.46, 0.45,
                   0.45, 0.44, 0.45, 0.46, 0.45, 0.45, 0.44, 0.45, 0.46, 0.45,
                   0.45, 0.44, 0.45, 0.46, 0.45, 0.45, 0.44, 0.45, 0.46, 0.45]

# ---- CIFAR-100 ----
C100_10_OURS = [4.5, 3.5, 2.9, 2.7, 2.4, 2.3, 2.25, 2.25, 2.35, 2.5,
                2.45, 2.25, 2.55, 2.5, 2.35, 2.45, 2.6, 2.55, 2.75, 2.5,
                2.45, 2.65, 2.9, 2.65, 2.75, 2.9, 2.95, 3.25, 3.1, 3.1,
                2.95, 3.2, 3.05, 3.45, 3.35, 3.65, 3.35, 3.45, 3.45, 3.3,
                3.5, 3.5, 3.75, 3.9, 3.65, 3.95, 3.85, 3.9, 3.8, 3.85]
C100_10_OURS_SD = [3.0, 3.2, 3.0, 2.9, 2.8, 2.7, 2.65, 2.6, 2.65, 2.75,
                   2.6, 2.45, 2.6, 2.5, 2.35, 2.4, 2.5, 2.4, 2.6, 2.3,
                   2.3, 2.45, 2.6, 2.4, 2.45, 2.55, 2.6, 2.9, 2.7, 2.75,
                   2.65, 2.8, 2.75, 3.0, 2.95, 3.2, 2.9, 3.0, 3.0, 2.8,
                   3.0, 2.95, 3.2, 3.3, 3.1, 3.45, 3.3, 3.4, 3.35, 3.45]
C100_10_BASE = [2.85, 2.2, 1.9, 1.8, 1.75, 1.7, 1.7, 1.65, 1.8, 1.75,
                1.8, 1.85, 1.85, 1.85, 1.9, 1.85, 1.9, 1.95, 1.95, 1.95,
                2.0, 2.05, 2.05, 2.05, 2.1, 2.1, 2.15, 2.05, 2.15, 2.2,
                2.2, 2.2, 2.25, 2.25, 2.3, 2.45, 2.3, 2.3, 2.35, 2.35,
                2.4, 2.4, 2.45, 2.5, 2.5, 2.5, 2.55, 2.45, 2.5, 2.5]
C100_10_BASE_SD = [1.3, 1.1, 1.0, 0.95, 0.95, 0.95, 0.95, 0.95, 1.05, 1.0,
                   1.0, 1.05, 1.05, 1.05, 1.08, 1.05, 1.1, 1.1, 1.1, 1.1,
                   1.12, 1.12, 1.12, 1.12, 1.15, 1.15, 1.15, 1.1, 1.15, 1.18,
                   1.18, 1.2, 1.2, 1.2, 1.22, 1.28, 1.22, 1.22, 1.22, 1.22,
                   1.22, 1.22, 1.25, 1.25, 1.25, 1.25, 1.28, 1.25, 1.25, 1.25]
C100_50_OURS = [4.5, 3.3, 2.8, 2.45, 2.2, 2.0, 1.9, 1.85, 1.75, 1.7,
                1.65, 1.6, 1.6, 1.55, 1.5, 1.5, 1.5, 1.47, 1.45, 1.45,
                1.47, 1.45, 1.42, 1.4, 1.42, 1.38, 1.4, 1.42, 1.45, 1.45,
                1.45, 1.45, 1.45, 1.43, 1.45, 1.45, 1.45, 1.45, 1.47, 1.45,
                1.45, 1.47, 1.48, 1.47, 1.5, 1.47, 1.5, 1.5, 1.52, 1.55]
C100_50_OURS_SD = [1.6, 1.5, 1.3, 1.15, 1.05, 0.95, 0.9, 0.85, 0.8, 0.75,
                   0.72, 0.7, 0.68, 0.66, 0.65, 0.64, 0.63, 0.62, 0.62, 0.6,
                   0.62, 0.6, 0.6, 0.6, 0.6, 0.58, 0.58, 0.6, 0.6, 0.6,
                   0.6, 0.6, 0.6, 0.6, 0.6, 0.6, 0.6, 0.6, 0.6, 0.62,
                   0.6, 0.62, 0.62, 0.62, 0.62, 0.62, 0.63, 0.63, 0.64, 0.65]
C100_50_BASE = [2.9, 2.1, 1.75, 1.55, 1.45, 1.35, 1.25, 1.2, 1.15, 1.1,
                1.08, 1.06, 1.05, 1.03, 1.02, 1.02, 1.0, 1.0, 1.0, 1.0,
                0.95, 1.0, 0.98, 0.98, 0.98, 0.97, 0.97, 0.97, 0.97, 0.97,
                0.97, 0.97, 0.98, 0.97, 0.97, 0.97, 0.98, 0.98, 0.98, 0.98,
                1.0, 0.98, 1.0, 1.0, 0.98, 0.97, 0.97, 1.0, 1.0, 1.0]
C100_50_BASE_SD = [1.3, 0.95, 0.8, 0.7, 0.62, 0.58, 0.54, 0.5, 0.48, 0.46,
                   0.45, 0.44, 0.43, 0.42, 0.42, 0.41, 0.41, 0.4, 0.4, 0.4,
                   0.4, 0.4, 0.41, 0.4, 0.4, 0.39, 0.4, 0.41, 0.4, 0.4,
                   0.39, 0.4, 0.41, 0.4, 0.4, 0.39, 0.4, 0.41, 0.4, 0.4,
                   0.39, 0.4, 0.41, 0.4, 0.4, 0.39, 0.4, 0.41, 0.4, 0.4]
C100_100_OURS = [4.8, 4.3, 3.6, 3.1, 2.8, 2.55, 2.4, 2.3, 2.15, 2.05,
                 2.0, 1.9, 1.8, 1.78, 1.75, 1.7, 1.68, 1.65, 1.6, 1.55,
                 1.58, 1.55, 1.52, 1.5, 1.48, 1.47, 1.46, 1.45, 1.44, 1.42,
                 1.42, 1.42, 1.4, 1.4, 1.4, 1.38, 1.38, 1.38, 1.37, 1.35,
                 1.35, 1.37, 1.37, 1.36, 1.37, 1.36, 1.34, 1.35, 1.35, 1.35]
C100_100_OURS_SD = [1.6, 1.5, 1.35, 1.25, 1.1, 1.05, 1.0, 0.95, 0.9, 0.88,
                    0.85, 0.82, 0.8, 0.78, 0.76, 0.74, 0.72, 0.7, 0.7, 0.68,
                    0.68, 0.66, 0.65, 0.64, 0.63, 0.62, 0.62, 0.62, 0.61, 0.6,
                    0.6, 0.61, 0.6, 0.6, 0.61, 0.6, 0.6, 0.61, 0.6, 0.6,
                    0.61, 0.6, 0.6, 0.61, 0.6, 0.6, 0.61, 0.6, 0.6, 0.61]
C100_100_BASE = [2.6, 2.0, 1.7, 1.5, 1.35, 1.25, 1.15, 1.1, 1.05, 1.0,
                 0.97, 0.94, 0.92, 0.9, 0.88, 0.86, 0.84, 0.82, 0.81, 0.8,
                 0.79, 0.78, 0.77, 0.76, 0.76, 0.75, 0.75, 0.74, 0.73, 0.73,
                 0.72, 0.72, 0.71, 0.71, 0.71, 0.7, 0.7, 0.7, 0.69, 0.7,
                 0.69, 0.68, 0.69, 0.68, 0.68, 0.68, 0.68, 0.67, 0.68, 0.68]
C100_100_BASE_SD = [0.95, 0.8, 0.68, 0.6, 0.55, 0.5, 0.46, 0.42, 0.4, 0.38,
                    0.36, 0.34, 0.33, 0.32, 0.31, 0.3, 0.3, 0.29, 0.28, 0.28,
                    0.27, 0.27, 0.26, 0.26, 0.26, 0.25, 0.25, 0.25, 0.25, 0.25,
                    0.24, 0.24, 0.24, 0.24, 0.23, 0.23, 0.23, 0.23, 0.23, 0.23,
                    0.22, 0.22, 0.22, 0.22, 0.22, 0.22, 0.22, 0.22, 0.22, 0.22]

# inner (standard-error) band as a fraction of the outer std band
INNER_FRACTION = 0.09

PANELS = [
    [(SYN10_OURS, SYN10_OURS_SD, SYN10_BASE, SYN10_BASE_SD),
     (SYN50_OURS, SYN50_OURS_SD, SYN50_BASE, SYN50_BASE_SD),
     (SYN100_OURS, SYN100_OURS_SD, SYN100_BASE, SYN100_BASE_SD)],
    [(AIR10_OURS, AIR10_OURS_SD, AIR10_BASE, AIR10_BASE_SD),
     (AIR50_OURS, AIR50_OURS_SD, AIR50_BASE, AIR50_BASE_SD),
     (AIR100_OURS, AIR100_OURS_SD, AIR100_BASE, AIR100_BASE_SD)],
    [(APP10_OURS, APP10_OURS_SD, APP10_BASE, APP10_BASE_SD),
     (APP50_OURS, APP50_OURS_SD, APP50_BASE, APP50_BASE_SD),
     (APP100_OURS, APP100_OURS_SD, APP100_BASE, APP100_BASE_SD)],
    [(MNI10_OURS, MNI10_OURS_SD, MNI10_BASE, MNI10_BASE_SD),
     (MNI50_OURS, MNI50_OURS_SD, MNI50_BASE, MNI50_BASE_SD),
     (MNI100_OURS, MNI100_OURS_SD, MNI100_BASE, MNI100_BASE_SD)],
    [(FAS10_OURS, FAS10_OURS_SD, FAS10_BASE, FAS10_BASE_SD),
     (FAS50_OURS, FAS50_OURS_SD, FAS50_BASE, FAS50_BASE_SD),
     (FAS100_OURS, FAS100_OURS_SD, FAS100_BASE, FAS100_BASE_SD)],
    [(C10_10_OURS, C10_10_OURS_SD, C10_10_BASE, C10_10_BASE_SD),
     (C10_50_OURS, C10_50_OURS_SD, C10_50_BASE, C10_50_BASE_SD),
     (C10_100_OURS, C10_100_OURS_SD, C10_100_BASE, C10_100_BASE_SD)],
    [(C100_10_OURS, C100_10_OURS_SD, C100_10_BASE, C100_10_BASE_SD),
     (C100_50_OURS, C100_50_OURS_SD, C100_50_BASE, C100_50_BASE_SD),
     (C100_100_OURS, C100_100_OURS_SD, C100_100_BASE, C100_100_BASE_SD)],
]

# ---------------- layout (pixels) ----------------
W, H = 863, 1179
ROW_TOP = [30, 191, 359, 519, 680, 847, 1012]
ROW_BOTTOM = [163, 329, 489, 653, 815, 982, 1146]
COL_LEFT = [[74, 348, 622], [77, 352, 628], [82, 357, 633], [74, 348, 624],
            [74, 348, 624], [68, 342, 617], [67, 342, 617]]
COL_RIGHT = [304, 577, 853]
YLABEL_X = [48, 323, 599]
TITLE_X = [175, 450, 726]
ROW_LABEL_Y = [86, 263, 432, 571, 748, 903, 1066]
LEGEND_CORNER = [["ll", "ur", "ur"], ["ur", "ur", "ur"], ["ur", "ur", "ur"],
                 ["ll", "ur", "ur"], ["ll", "ur", "ur"], ["lr", "ur", "ur"],
                 ["ul", "ur", "ur"]]
# which legend handle is drawn as a light, thick stroke (blue, red)
LEGEND_THICK = [[(False, False), (True, False), (True, False)],
                [(True, False)] * 3,
                [(False, False)] * 3,
                [(False, False)] * 3,
                [(False, False)] * 3,
                [(False, True)] * 3,
                [(True, False)] * 3]

BLUE, RED = "rgb(0,0,255)", "rgb(255,0,0)"
FILL_OUT = {"b": "rgba(0,0,255,0.14)", "r": "rgba(255,0,0,0.14)"}
FILL_IN = {"b": "rgba(0,0,255,0.30)", "r": "rgba(255,0,0,0.30)"}
LIGHT = {"b": "rgba(60,60,255,0.55)", "r": "rgba(255,60,60,0.55)"}
FONT = "DejaVu Sans"


def px(x):
    return x / W


def py(y):
    return 1 - y / H


fig = go.Figure()
shapes = []
annotations = []


def band(xs, mean, sd, frac):
    up = [m + s * frac for m, s in zip(mean, sd)]
    lo = [m - s * frac for m, s in zip(mean, sd)]
    return xs + xs[::-1], up + lo[::-1]


for r in range(7):
    for c in range(3):
        k = r * 3 + c + 1
        xa = "x" if k == 1 else f"x{k}"
        ya = "y" if k == 1 else f"y{k}"
        ours, ours_sd, base, base_sd = PANELS[r][c]
        for key, mean, sd in (("b", ours, ours_sd), ("r", base, base_sd)):
            bx, by = band(EPOCHS, mean, sd, 1.0)
            fig.add_trace(go.Scatter(x=bx, y=by, fill="toself", fillcolor=FILL_OUT[key],
                                     line=dict(width=0), mode="lines", showlegend=False,
                                     hoverinfo="skip", xaxis=xa, yaxis=ya))
            bx, by = band(EPOCHS, mean, sd, INNER_FRACTION)
            fig.add_trace(go.Scatter(x=bx, y=by, fill="toself", fillcolor=FILL_IN[key],
                                     line=dict(width=0), mode="lines", showlegend=False,
                                     hoverinfo="skip", xaxis=xa, yaxis=ya))
        fig.add_trace(go.Scatter(x=EPOCHS, y=ours, mode="lines", name=SERIES_NAMES[0],
                                 line=dict(color=BLUE, width=1.2), showlegend=False,
                                 xaxis=xa, yaxis=ya))
        fig.add_trace(go.Scatter(x=EPOCHS, y=base, mode="lines", name=SERIES_NAMES[1],
                                 line=dict(color=RED, width=1.2), showlegend=False,
                                 xaxis=xa, yaxis=ya))

        left, right = COL_LEFT[r][c], COL_RIGHT[c]
        top, bottom = ROW_TOP[r], ROW_BOTTOM[r]
        axis_common = dict(showline=True, linecolor="black", linewidth=1, mirror=True,
                           ticks="outside", ticklen=3.5, tickwidth=0.8, tickcolor="black",
                           showgrid=True, gridcolor="#e3e3e3", gridwidth=0.8,
                           zeroline=False, tickfont=dict(family=FONT, size=11.2, color="black"))
        fig.layout[f"xaxis{k if k > 1 else ''}"] = dict(
            domain=[px(left), px(right)], anchor=ya, range=[0, 51],
            tickvals=X_TICKS, ticklabelstandoff=-5, **axis_common)
        fig.layout[f"yaxis{k if k > 1 else ''}"] = dict(
            domain=[py(bottom), py(top)], anchor=xa, range=Y_RANGES[r],
            tickvals=Y_TICKVALS[r], ticktext=Y_TICKTEXT[r], ticklabelstandoff=-2,
            **axis_common)

        # axis titles
        annotations.append(dict(xref="paper", yref="paper", x=px((left + right) / 2),
                                y=py(bottom + 21), text=X_LABEL, showarrow=False,
                                xanchor="center", yanchor="middle",
                                font=dict(family=FONT, size=10.8, color="black")))
        annotations.append(dict(xref="paper", yref="paper", x=px(YLABEL_X[c]),
                                y=py((top + bottom) / 2), text=Y_LABEL, showarrow=False,
                                textangle=-90, xanchor="center", yanchor="middle",
                                font=dict(family=FONT, size=11, color="black")))

        # ---- legend box ----
        bw, bh, inset = 111, 30, 3.5
        corner = LEGEND_CORNER[r][c]
        x0 = left + inset if corner in ("ll", "ul") else right - inset - bw
        y0 = top + inset if corner in ("ur", "ul") else bottom - inset - bh
        x1, y1 = x0 + bw, y0 + bh
        rad = 2.5
        path = (f"M {px(x0 + rad)} {py(y0)} L {px(x1 - rad)} {py(y0)} "
                f"Q {px(x1)} {py(y0)} {px(x1)} {py(y0 + rad)} L {px(x1)} {py(y1 - rad)} "
                f"Q {px(x1)} {py(y1)} {px(x1 - rad)} {py(y1)} L {px(x0 + rad)} {py(y1)} "
                f"Q {px(x0)} {py(y1)} {px(x0)} {py(y1 - rad)} L {px(x0)} {py(y0 + rad)} "
                f"Q {px(x0)} {py(y0)} {px(x0 + rad)} {py(y0)} Z")
        shapes.append(dict(type="path", xref="paper", yref="paper", path=path,
                           fillcolor="rgba(255,255,255,0.85)", line=dict(color="#cccccc", width=0.8)))
        thick = LEGEND_THICK[r][c]
        for i, (key, col, name) in enumerate((("b", BLUE, SERIES_NAMES[0]), ("r", RED, SERIES_NAMES[1]))):
            ly = y0 + 8.5 + i * 13
            if thick[i]:
                lcol, lw = LIGHT[key], 3.2
            else:
                lcol, lw = col, 1.2
            shapes.append(dict(type="line", xref="paper", yref="paper",
                               x0=px(x0 + 4.5), x1=px(x0 + 22.5), y0=py(ly), y1=py(ly),
                               line=dict(color=lcol, width=lw)))
            annotations.append(dict(xref="paper", yref="paper", x=px(x0 + 29.5), y=py(ly),
                                    text=name, showarrow=False, xanchor="left", yanchor="middle",
                                    font=dict(family=FONT, size=9, color="black")))

for c in range(3):
    annotations.append(dict(xref="paper", yref="paper", x=px(TITLE_X[c]), y=py(14),
                            text=f"<b>{COL_TITLES[c]}</b>", showarrow=False,
                            xanchor="center", yanchor="middle",
                            font=dict(family="DejaVu Serif", size=17.5, color="black")))
for r in range(7):
    annotations.append(dict(xref="paper", yref="paper", x=px(14), y=py(ROW_LABEL_Y[r]),
                            text=f"<b>{ROW_NAMES[r]}</b>", showarrow=False, textangle=-90,
                            xanchor="center", yanchor="middle",
                            font=dict(family="DejaVu Serif", size=15.5, color="black")))

fig.update_layout(width=W, height=H, margin=dict(l=0, r=0, t=0, b=0),
                  paper_bgcolor="white", plot_bgcolor="white",
                  showlegend=False, shapes=shapes, annotations=annotations)

fig.write_html("out.html")
